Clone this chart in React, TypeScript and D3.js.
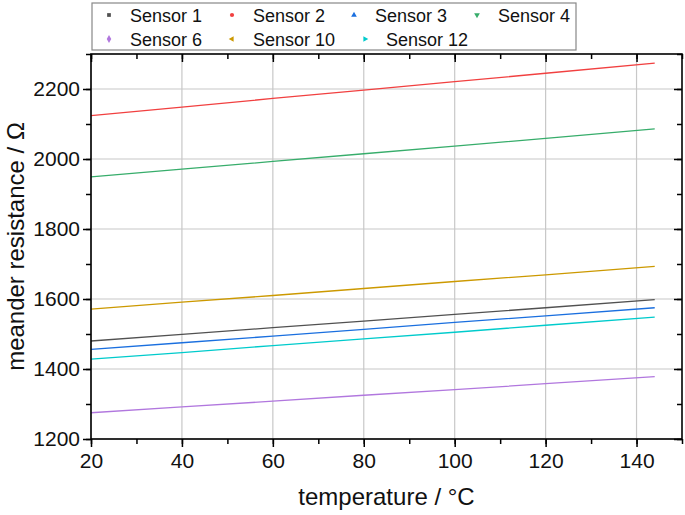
import { useEffect, useRef } from "react";
import * as d3 from "d3";

// temperature points (°C)
const temps = [20, 40, 60, 80, 100, 120, 144];

const sensor1 = [1480, 1499, 1518, 1537, 1556, 1575, 1598];
const sensor2 = [2124, 2148, 2173, 2197, 2221, 2245, 2274];
const sensor3 = [1456, 1475, 1494, 1513, 1533, 1552, 1575];
const sensor4 = [1949, 1971, 1993, 2015, 2037, 2059, 2086];
const sensor6 = [1275, 1292, 1308, 1325, 1341, 1358, 1378];
const sensor10 = [1571, 1591, 1610, 1630, 1650, 1669, 1693];
const sensor12 = [1428, 1447, 1467, 1486, 1505, 1525, 1548];

const seriesNames = ["Sensor 1", "Sensor 2", "Sensor 3", "Sensor 4", "Sensor 6", "Sensor 10", "Sensor 12"];
const seriesValues = [sensor1, sensor2, sensor3, sensor4, sensor6, sensor10, sensor12];
const seriesColors = ["#515151", "#F14040", "#1A6FDF", "#37AD6B", "#B177DE", "#CC9900", "#00CBCC"];

const xTicks = [20, 40, 60, 80, 100, 120, 140];
const yTicks = [1200, 1400, 1600, 1800, 2000, 2200];

const App = () => {
  const ref = useRef(null);

  useEffect(() => {
    const svg = d3.select(ref.current);
    svg.selectAll("*").remove();

    const W = 685;
    const H = 515;
    const margin = { top: 54, right: 3, bottom: 76, left: 91 };
    const width = W - margin.left - margin.right;
    const height = H - margin.top - margin.bottom;
    const font = "'Liberation Sans', Arial, sans-serif";

    const x = d3.scaleLinear().domain([20, 150]).range([0, width]);
    const y = d3.scaleLinear().domain([1200, 2300]).range([height, 0]);

    const g = svg.append("g").attr("transform", `translate(${margin.left},${margin.top})`);

    // grid
    g.append("g")
      .selectAll("line")
      .data(xTicks)
      .enter()
      .append("line")
      .attr("x1", (d) => x(d))
      .attr("x2", (d) => x(d))
      .attr("y1", 0)
      .attr("y2", height)
      .attr("stroke", "#c8c8c8")
      .attr("stroke-width", 1.2);
    g.append("g")
      .selectAll("line")
      .data(yTicks)
      .enter()
      .append("line")
      .attr("x1", 0)
      .attr("x2", width)
      .attr("y1", (d) => y(d))
      .attr("y2", (d) => y(d))
      .attr("stroke", "#c8c8c8")
      .attr("stroke-width", 1.2);

    // lines
    const line = d3
      .line<number>()
      .x((d, i) => x(temps[i]))
      .y((d) => y(d));
    seriesValues.forEach((vals, k) => {
      g.append("path")
        .datum(vals)
        .attr("fill", "none")
        .attr("stroke", seriesColors[k])
        .attr("stroke-width", 1.3)
        .attr("d", line);
    });

    const xMinor = d3.range(20, 151, 10);
    const yMinor = d3.range(1200, 2301, 100);

    // bottom axis (outward ticks)
    g.append("g")
      .attr("transform", `translate(0,${height})`)
      .call(d3.axisBottom(x).tickValues(xMinor).tickSize(5).tickFormat(() => ""))
      .call((s) => s.select(".domain").remove());
    const bottomMajor = g
      .append("g")
      .attr("transform", `translate(0,${height})`)
      .call(d3.axisBottom(x).tickValues(xTicks).tickSize(8).tickPadding(6).tickFormat(d3.format("d")));
    bottomMajor.select(".domain").remove();
    bottomMajor.selectAll("text").attr("font-size", 21).attr("font-family", font).attr("fill", "#111");

    // left axis
    g.append("g")
      .call(d3.axisLeft(y).tickValues(yMinor).tickSize(5).tickFormat(() => ""))
      .call((s) => s.select(".domain").remove());
    const leftMajor = g
      .append("g")
      .call(d3.axisLeft(y).tickValues(yTicks).tickSize(8).tickPadding(3).tickFormat(d3.format("d")));
    leftMajor.select(".domain").remove();
    leftMajor.selectAll("text").attr("font-size", 21).attr("font-family", font).attr("fill", "#111");

    // top axis (inward ticks)
    g.append("g")
      .call(d3.axisTop(x).tickValues(xMinor).tickSize(-5).tickFormat(() => ""))
      .call((s) => s.select(".domain").remove());
    g.append("g")
      .call(d3.axisTop(x).tickValues(xTicks).tickSize(-8).tickFormat(() => ""))
      .call((s) => s.select(".domain").remove());

    // right axis (inward ticks)
    g.append("g")
      .attr("transform", `translate(${width},0)`)
      .call(d3.axisRight(y).tickValues(yMinor).tickSize(-5).tickFormat(() => ""))
      .call((s) => s.select(".domain").remove());
    g.append("g")
      .attr("transform", `translate(${width},0)`)
      .call(d3.axisRight(y).tickValues(yTicks).tickSize(-8).tickFormat(() => ""))
      .call((s) => s.select(".domain").remove());

    g.selectAll(".tick line").attr("stroke", "#000").attr("stroke-width", 1.5);

    // frame
    g.append("rect")
      .attr("x", 0)
      .attr("y", 0)
      .attr("width", width)
      .attr("height", height)
      .attr("fill", "none")
      .attr("stroke", "#000")
      .attr("stroke-width", 1.6);

    // axis titles
    svg
      .append("text")
      .attr("x", margin.left + x(85))
      .attr("y", 505)
      .attr("text-anchor", "middle")
      .attr("font-size", 24)
      .attr("font-family", font)
      .attr("fill", "#111")
      .text("temperature / °C");
    svg
      .append("text")
      .attr("transform", `translate(24,${margin.top + y(1750)}) rotate(-90)`)
      .attr("text-anchor", "middle")
      .attr("font-size", 24)
      .attr("font-family", font)
      .attr("fill", "#111")
      .text("meander resistance / Ω");

    // legend
    const legend = svg.append("g");
    legend
      .append("rect")
      .attr("x", 92)
      .attr("y", 3)
      .attr("width", 484)
      .attr("height", 47)
      .attr("fill", "#fff")
      .attr("stroke", "#888")
      .attr("stroke-width", 1.2);
    const symbols = [
      d3.symbolSquare,
      d3.symbolCircle,
      d3.symbolTriangle,
      d3.symbolTriangle,
      d3.symbolDiamond,
      d3.symbolTriangle,
      d3.symbolTriangle,
    ];
    const rotations = [0, 0, 0, 180, 0, -90, 90];
    const legendX = [109, 232, 354, 477, 109, 232, 365];
    const legendRow = [0, 0, 0, 0, 1, 1, 1];
    seriesNames.forEach((name, k) => {
      const cy = 15 + legendRow[k] * 24;
      legend
        .append("path")
        .attr("d", d3.symbol(symbols[k], k === 4 ? 18 : 14)())
        .attr("transform", `translate(${legendX[k]},${cy}) rotate(${rotations[k]})`)
        .attr("fill", seriesColors[k]);
      legend
        .append("text")
        .attr("x", legendX[k] + 21)
        .attr("y", cy + 6.5)
        .attr("font-size", 18)
        .attr("font-family", font)
        .attr("fill", "#111")
        .text(name);
    });
  }, []);

  return <svg ref={ref} width={685} height={515} style={{ position: "absolute", left: 0, top: 0, background: "#fff" }} />;
};

export default App;
